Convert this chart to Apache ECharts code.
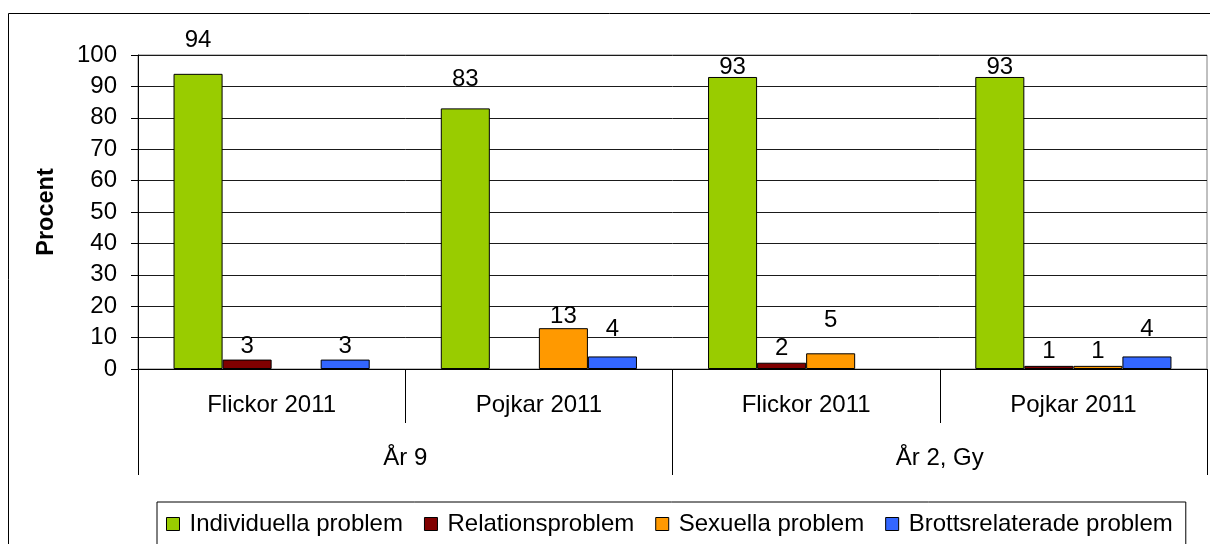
<!DOCTYPE html>
<html>
<head>
<meta charset="utf-8">
<script src="https://cdn.jsdelivr.net/npm/echarts@6/dist/echarts.min.js"></script>
<style>
  html, body { margin: 0; padding: 0; background: #fff; }
  #chart { width: 1210px; height: 544px; }
</style>
</head>
<body>
<div id="chart"></div>
<script>
// Categories (lower row) and their school-year groups (upper row)
const categories = ['Flickor 2011', 'Pojkar 2011', 'Flickor 2011', 'Pojkar 2011'];
const groups = ['År 9', 'År 2, Gy'];

// Share of answers (percent) per problem type
const seriesNames = ['Individuella problem', 'Relationsproblem', 'Sexuella problem', 'Brottsrelaterade problem'];
const individuella = [94, 83, 93, 93];
const relations = [3, null, 2, 1];
const sexuella = [null, 13, 5, 1];
const brotts = [3, 4, null, 4];

// Y axis ticks
const yTicks = [0, 10, 20, 30, 40, 50, 60, 70, 80, 90, 100];

// Visual settings
const colors = ['#99CC00', '#800000', '#FF9900', '#3366FF'];
const labelGaps = [
  [21, 17, -2, -2],
  [1, null, 2, 2],
  [null, 0, 21, 2],
  [1, 15, null, 15]
];

const FONT = '"Liberation Sans", Arial, sans-serif';
const FS = 24;

const values = [individuella, relations, sexuella, brotts];

const series = values.map((vals, s) => ({
  name: seriesNames[s],
  type: 'bar',
  xAxisIndex: 0,
  barGap: '0%',
  barCategoryGap: '26.6%',
  itemStyle: { color: colors[s], borderColor: '#000', borderWidth: 1 },
  label: {
    show: true,
    position: 'top',
    color: '#000',
    fontFamily: FONT,
    fontSize: FS
  },
  emphasis: { disabled: true },
  data: vals.map((v, i) => ({
    value: v,
    label: { distance: labelGaps[s][i] == null ? 5 : labelGaps[s][i] }
  }))
}));

const chart = echarts.init(document.getElementById('chart'), null, { renderer: 'canvas' });
chart.setOption({
  animation: false,
  backgroundColor: '#fff',
  textStyle: { fontFamily: FONT },
  grid: {
    left: 138, right: 3, top: 55, bottom: 175,
    show: true, borderColor: '#808080', borderWidth: 1, backgroundColor: '#fff'
  },
  legend: {
    left: 157, top: 502,
    orient: 'horizontal',
    data: seriesNames,
    icon: 'rect',
    itemWidth: 13, itemHeight: 13,
    itemGap: 21,
    padding: [10, 13, 30, 9],
    borderColor: '#000', borderWidth: 1,
    itemStyle: { borderColor: '#000', borderWidth: 1 },
    textStyle: { color: '#000', fontFamily: FONT, fontSize: FS, padding: [0, 0, 0, 5] },
    selectedMode: false
  },
  xAxis: [
    {
      type: 'category',
      data: categories,
      position: 'bottom',
      axisLine: { show: true, lineStyle: { color: '#000', width: 1 } },
      axisTick: { show: true, length: 54, lineStyle: { color: '#000' } },
      axisLabel: { color: '#000', fontFamily: FONT, fontSize: FS, margin: 24, interval: 0 },
      splitLine: { show: false }
    },
    {
      type: 'category',
      data: groups,
      position: 'bottom',
      axisLine: { show: false },
      axisTick: { show: true, length: 106, lineStyle: { color: '#000' } },
      axisLabel: { color: '#000', fontFamily: FONT, fontSize: FS, margin: 77, interval: 0 },
      splitLine: { show: false }
    }
  ],
  yAxis: {
    type: 'value',
    min: yTicks[0],
    max: yTicks[yTicks.length - 1],
    interval: 10,
    name: 'Procent',
    nameLocation: 'middle',
    nameRotate: 90,
    nameGap: 79,
    nameTextStyle: { color: '#000', fontFamily: FONT, fontSize: 23.5, fontWeight: 'bold' },
    axisLine: { show: true, lineStyle: { color: '#000', width: 1 } },
    axisTick: { show: true, length: 7, lineStyle: { color: '#000' } },
    axisLabel: { color: '#000', fontFamily: FONT, fontSize: FS, margin: 21 },
    splitLine: { show: true, lineStyle: { color: '#1a1a1a', width: 1 } }
  },
  graphic: [
    {
      type: 'rect',
      silent: true,
      z: -1,
      shape: { x: 8.5, y: 13.5, width: 1300, height: 600 },
      style: { fill: 'none', stroke: '#000', lineWidth: 1 }
    }
  ],
  series: series
});
</script>
</body>
</html>
